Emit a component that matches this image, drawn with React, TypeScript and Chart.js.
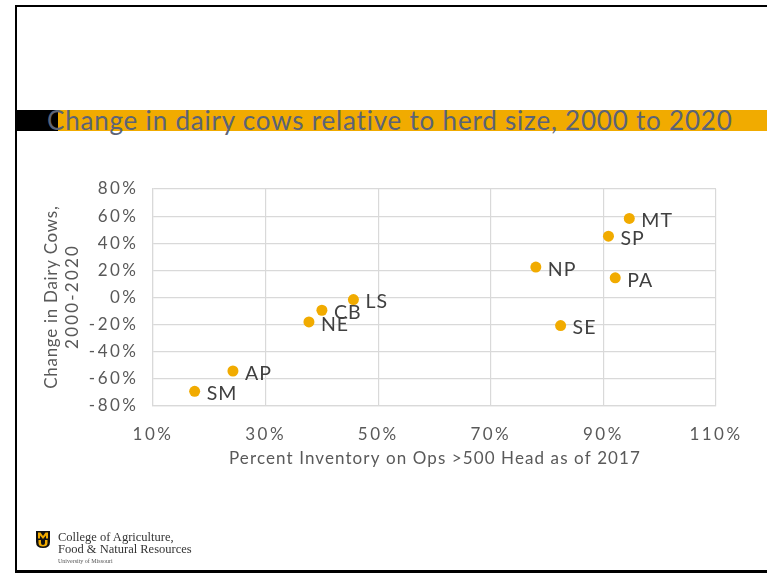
import React, { useEffect, useRef } from "react";
import { Chart, registerables } from "chart.js";
Chart.register(...registerables);

const pointLabels = ["MT", "SP", "NP", "PA", "LS", "SE", "CB", "NE", "AP", "SM"];
const xValues = [94.6, 90.9, 78.0, 92.1, 45.6, 82.4, 40.0, 37.7, 24.2, 17.4];
const yValues = [58.3, 45.2, 22.4, 14.5, -1.5, -20.7, -9.4, -18.0, -54.2, -69.2];
const xMin = 10, xMax = 110, xStep = 20;
const yMin = -80, yMax = 80, yStep = 20;

const titleText = "Change in dairy cows relative to herd size, 2000 to 2020";
const xTitle = "Percent Inventory on Ops >500 Head as of 2017";
const yTitle = ["Change in Dairy Cows,", "2000-2020"];

const FONT = "Lato, 'Open Sans', sans-serif";
const GOLD = "#F1AB00";
const TEXT = "#595959";

const textPlugin = {
  id: "slideText",
  beforeDraw(chart: any) {
    (chart.ctx as any).letterSpacing = "2.5px";
  },
  afterDatasetsDraw(chart: any) {
    const ctx = chart.ctx as any;
    const meta = chart.getDatasetMeta(0);
    ctx.save();
    ctx.letterSpacing = "1px";
    ctx.font = `19.5px ${FONT}`;
    ctx.fillStyle = "#404040";
    ctx.textAlign = "left";
    ctx.textBaseline = "middle";
    meta.data.forEach((el: any, i: number) => {
      ctx.fillText(pointLabels[i], el.x + 12, el.y + 2.5);
    });
    ctx.restore();
  },
  afterDraw(chart: any) {
    const ctx = chart.ctx as any;
    const area = chart.chartArea;
    ctx.save();
    ctx.font = `17px ${FONT}`;
    ctx.fillStyle = TEXT;
    ctx.textAlign = "center";
    ctx.textBaseline = "middle";
    ctx.letterSpacing = "1.1px";
    ctx.fillText(xTitle, (area.left + area.right) / 2 + 0.5, area.bottom + 53);
    const cy = (area.top + area.bottom) / 2;
    ctx.translate(52, cy);
    ctx.rotate(-Math.PI / 2);
    ctx.letterSpacing = "0.7px";
    ctx.fillText(yTitle[0], 0.35, 0);
    ctx.letterSpacing = "2.2px";
    ctx.fillText(yTitle[1], 1.1, 20.4);
    ctx.restore();
    ctx.letterSpacing = "0px";
  },
};

function ScatterChart() {
  const ref = useRef<HTMLCanvasElement>(null);
  useEffect(() => {
    if (!ref.current) return;
    const chart = new Chart(ref.current, {
      type: "scatter",
      data: {
        datasets: [
          {
            data: xValues.map((x, i) => ({ x, y: yValues[i] })),
            backgroundColor: GOLD,
            borderWidth: 0,
            pointRadius: 5.5,
          },
        ],
      },
      options: {
        responsive: false,
        animation: false,
        devicePixelRatio: 1,
        layout: { padding: { left: 42, right: 51, top: 189, bottom: 112 } },
        plugins: { legend: { display: false }, tooltip: { enabled: false } },
        scales: {
          x: {
            type: "linear",
            min: xMin,
            max: xMax,
            afterFit: (s: any) => { s.height = 55; },
            ticks: {
              stepSize: xStep,
              callback: (v: any) => v + "%",
              font: { size: 17, family: FONT },
              color: TEXT,
              padding: 18,
              maxRotation: 0,
            },
            grid: { color: "#d9d9d9", drawTicks: false, lineWidth: 1.2 },
            border: { color: "#d9d9d9", width: 1.2 },
          },
          y: {
            type: "linear",
            min: yMin,
            max: yMax,
            afterFit: (s: any) => { s.width = 111; },
            ticks: {
              stepSize: yStep,
              callback: (v: any) => v + "%",
              font: { size: 17, family: FONT },
              color: TEXT,
              padding: 14.5,
            },
            grid: { color: "#d9d9d9", drawTicks: false, lineWidth: 1.2 },
            border: { color: "#d9d9d9", width: 1.2 },
          },
        },
      },
      plugins: [textPlugin],
    } as any);
    return () => chart.destroy();
  }, []);
  return (
    <canvas
      ref={ref}
      width={767}
      height={573}
      style={{ position: "absolute", left: 0, top: 0, width: 767, height: 573 }}
    />
  );
}

export default function App() {
  return (
    <div
      style={{
        position: "fixed",
        left: 0,
        top: 0,
        width: 767,
        height: 573,
        background: "#fff",
        overflow: "hidden",
      }}
    >
      <div
        style={{
          position: "absolute",
          left: 15,
          top: 5,
          width: 760,
          height: 568,
          boxSizing: "border-box",
          borderTop: "2px solid #000",
          borderLeft: "2px solid #000",
          borderBottom: "3px solid #000",
        }}
      />
      <div style={{ position: "absolute", left: 17, top: 110, width: 41, height: 21, background: "#000" }} />
      <div style={{ position: "absolute", left: 58, top: 110, width: 709, height: 21, background: GOLD }} />
      <div
        style={{
          position: "absolute",
          left: 47,
          top: 105,
          fontFamily: FONT,
          fontSize: 26,
          lineHeight: 1.2,
          letterSpacing: "0.8px",
          color: "#5B6377",
          whiteSpace: "nowrap",
        }}
      >
        {titleText}
      </div>
      <ScatterChart />
      <svg style={{ position: "absolute", left: 36, top: 531 }} width={14} height={17} viewBox="0 0 14 17">
        <path d="M0 0 H14 V11 Q14 17 7 17 Q0 17 0 11 Z" fill="#111" />
        <path d="M2 1.5 H4.5 L7 5 L9.5 1.5 H12 V7.5 H10 V4.5 L7 8 L4 4.5 V7.5 H2 Z" fill={GOLD} />
        <path d="M2.5 9 H5 V12 Q5 14 7 14 Q9 14 9 12 V9 H11.5 V12 Q11.5 15.5 7 15.5 Q2.5 15.5 2.5 12 Z" fill={GOLD} />
      </svg>
      <div
        style={{
          position: "absolute",
          left: 58,
          top: 530.5,
          fontFamily: "'Liberation Serif', 'DejaVu Serif', serif",
          fontSize: 12.5,
          lineHeight: "12.5px",
          color: "#333",
          whiteSpace: "nowrap",
        }}
      >
        <div>College of Agriculture,</div>
        <div>Food &amp; Natural Resources</div>
        <div style={{ fontSize: 6, lineHeight: "10px", color: "#555" }}>University of Missouri</div>
      </div>
    </div>
  );
}
